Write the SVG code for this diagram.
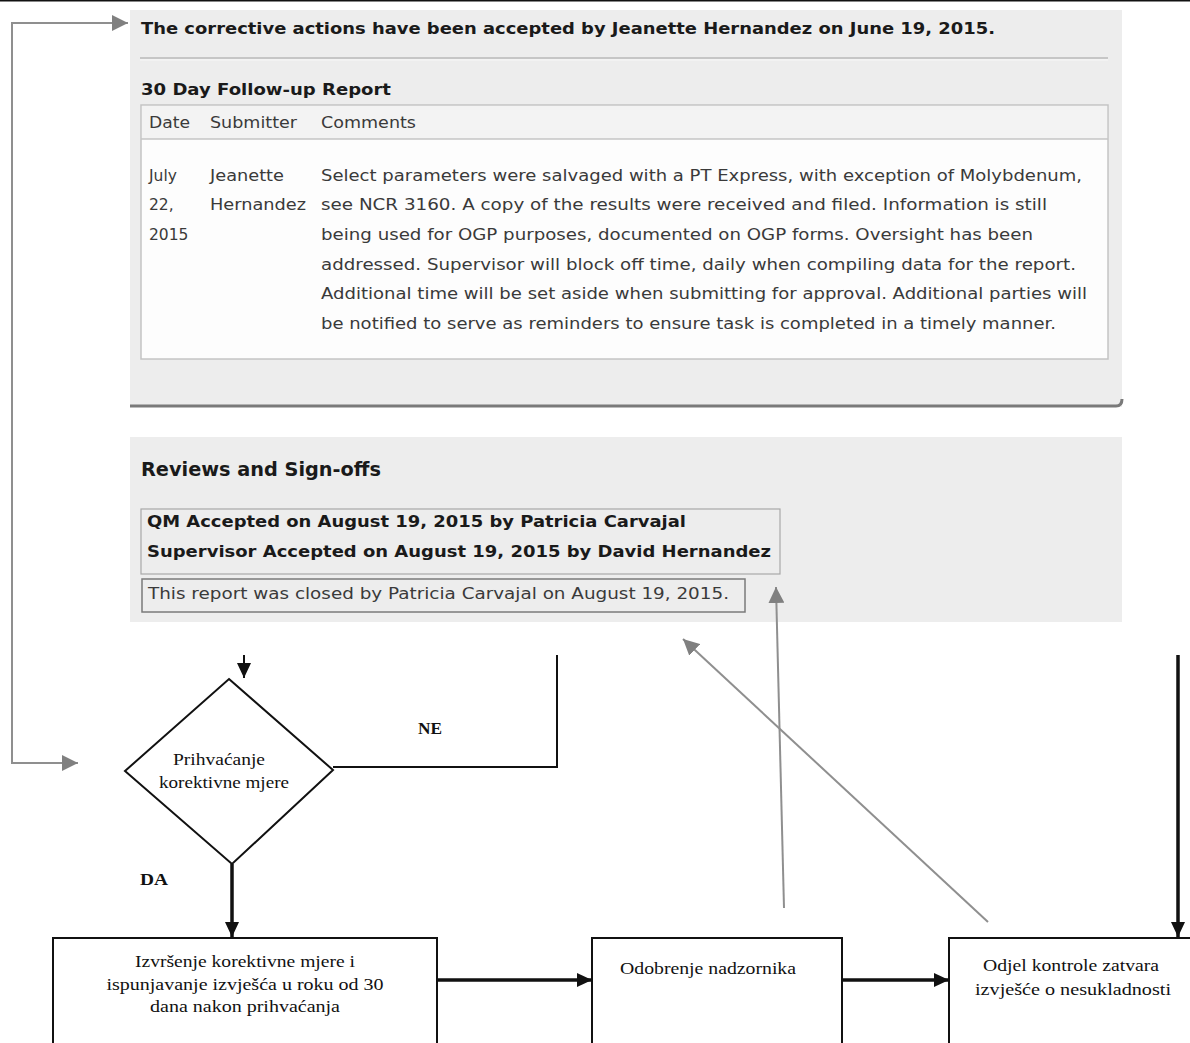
<svg xmlns="http://www.w3.org/2000/svg" width="1190" height="1043" viewBox="0 0 1190 1043">
<style>
.panel{fill:#ededed}
.hb{font-family:"DejaVu Sans",Verdana,sans-serif;font-weight:bold;fill:#1a1a1a}
.tx{font-family:"DejaVu Sans",Verdana,sans-serif;fill:#3a3a3a}
.fc{font-family:"Liberation Serif","Times New Roman",serif;fill:#111;font-size:16px}
.box{fill:#fff;stroke:#111;stroke-width:2}
.gl{stroke:#8f8f8f;stroke-width:2;fill:none}
.bl{stroke:#111;stroke-width:2;fill:none}
.bt{stroke:#111;stroke-width:3.5;fill:none}
</style>
<defs>
<marker id="ag" markerUnits="userSpaceOnUse" markerWidth="18" markerHeight="16" refX="16" refY="8" orient="auto-start-reverse" viewBox="0 0 18 16">
<path d="M0,0 L16,8 L0,16 Z" fill="#808080"/>
</marker>
<marker id="ab" markerUnits="userSpaceOnUse" markerWidth="16" markerHeight="14" refX="15" refY="7" orient="auto" viewBox="0 0 16 14">
<path d="M0,0 L15,7 L0,14 Z" fill="#111"/>
</marker>
</defs>
<rect width="1190" height="1043" fill="#fff"/>
<rect x="0" y="0" width="1190" height="1.5" fill="#111"/>

<g id="panel-followup">
<rect class="panel" x="130" y="10" width="992" height="397"/>
<path d="M130 406 H1116 Q1122 406 1122 399" stroke="#7a7a7a" stroke-width="3" fill="none"/>
<text class="hb" x="141" y="34" font-size="16" textLength="854" lengthAdjust="spacingAndGlyphs">The corrective actions have been accepted by Jeanette Hernandez on June 19, 2015.</text>
<line x1="140" y1="58" x2="1108" y2="58" stroke="#b8b8b8" stroke-width="1.5"/>
<line x1="140" y1="60" x2="1108" y2="60" stroke="#f8f8f8" stroke-width="1"/>
<text class="hb" x="141" y="95" font-size="16" textLength="250" lengthAdjust="spacingAndGlyphs">30 Day Follow-up Report</text>
<rect x="141" y="105" width="967" height="254" fill="#fdfdfd" stroke="#c4c4c4" stroke-width="1.5"/>
<rect x="142" y="106" width="965" height="33" fill="#f3f3f3"/>
<line x1="141" y1="139" x2="1108" y2="139" stroke="#c4c4c4" stroke-width="1.5"/>
<g class="tx" font-size="15.5">
<text x="149" y="128" textLength="41" lengthAdjust="spacingAndGlyphs">Date</text>
<text x="210" y="128" textLength="87" lengthAdjust="spacingAndGlyphs">Submitter</text>
<text x="321" y="128" textLength="95" lengthAdjust="spacingAndGlyphs">Comments</text>
<text x="149" y="181">July</text>
<text x="149" y="210">22,</text>
<text x="149" y="240">2015</text>
<text x="210" y="181" textLength="74" lengthAdjust="spacingAndGlyphs">Jeanette</text>
<text x="210" y="210" textLength="96" lengthAdjust="spacingAndGlyphs">Hernandez</text>
<text x="321" y="181" textLength="761" lengthAdjust="spacingAndGlyphs">Select parameters were salvaged with a PT Express, with exception of Molybdenum,</text>
<text x="321" y="210" textLength="726" lengthAdjust="spacingAndGlyphs">see NCR 3160. A copy of the results were received and filed. Information is still</text>
<text x="321" y="240" textLength="712" lengthAdjust="spacingAndGlyphs">being used for OGP purposes, documented on OGP forms. Oversight has been</text>
<text x="321" y="270" textLength="755" lengthAdjust="spacingAndGlyphs">addressed. Supervisor will block off time, daily when compiling data for the report.</text>
<text x="321" y="299" textLength="766" lengthAdjust="spacingAndGlyphs">Additional time will be set aside when submitting for approval. Additional parties will</text>
<text x="321" y="329" textLength="735" lengthAdjust="spacingAndGlyphs">be notified to serve as reminders to ensure task is completed in a timely manner.</text>
</g>
</g>

<g id="panel-reviews">
<rect class="panel" x="130" y="437" width="992" height="185"/>
<text class="hb" x="141" y="476" font-size="19" textLength="240" lengthAdjust="spacingAndGlyphs">Reviews and Sign-offs</text>
<rect x="141" y="509" width="639" height="65" fill="none" stroke="#a8a8a8" stroke-width="1.2"/>
<text class="hb" x="147" y="527" font-size="16" textLength="539" lengthAdjust="spacingAndGlyphs">QM Accepted on August 19, 2015 by Patricia Carvajal</text>
<text class="hb" x="147" y="557" font-size="16" textLength="624" lengthAdjust="spacingAndGlyphs">Supervisor Accepted on August 19, 2015 by David Hernandez</text>
<rect x="142" y="579" width="603" height="33" fill="none" stroke="#7a7a7a" stroke-width="1.5"/>
<text class="tx" x="148" y="599" font-size="15.5" textLength="581" lengthAdjust="spacingAndGlyphs">This report was closed by Patricia Carvajal on August 19, 2015.</text>
</g>

<g id="decision">
<polygon class="box" points="229,679 333,770 232,864 125,771"/>
<text class="fc" x="219" y="765" text-anchor="middle" textLength="92" lengthAdjust="spacingAndGlyphs">Prihvaćanje</text>
<text class="fc" x="224" y="788" text-anchor="middle" textLength="130" lengthAdjust="spacingAndGlyphs">korektivne mjere</text>
</g>

<g id="execution">
<rect class="box" x="53" y="938" width="384" height="110"/>
<text class="fc" x="245" y="967" text-anchor="middle" textLength="220" lengthAdjust="spacingAndGlyphs">Izvršenje korektivne mjere i</text>
<text class="fc" x="245" y="990" text-anchor="middle" textLength="277" lengthAdjust="spacingAndGlyphs">ispunjavanje izvješća u roku od 30</text>
<text class="fc" x="245" y="1012" text-anchor="middle" textLength="190" lengthAdjust="spacingAndGlyphs">dana nakon prihvaćanja</text>
</g>

<g id="approval">
<rect class="box" x="592" y="938" width="250" height="110"/>
<text class="fc" x="708" y="974" text-anchor="middle" textLength="176" lengthAdjust="spacingAndGlyphs">Odobrenje nadzornika</text>
</g>

<g id="closure">
<rect class="box" x="949" y="938" width="250" height="110"/>
<text class="fc" x="1071" y="971" text-anchor="middle" textLength="176" lengthAdjust="spacingAndGlyphs">Odjel kontrole zatvara</text>
<text class="fc" x="1073" y="995" text-anchor="middle" textLength="196" lengthAdjust="spacingAndGlyphs">izvješće o nesukladnosti</text>
</g>

<g id="labels" class="fc" font-weight="bold">
<text x="418" y="734" textLength="24" lengthAdjust="spacingAndGlyphs">NE</text>
<text x="140" y="885" textLength="28" lengthAdjust="spacingAndGlyphs">DA</text>
</g>

<g id="connectors">
<path class="gl" d="M78 763 H12 V23 H128" marker-start="url(#ag)" marker-end="url(#ag)"/>
<path class="gl" d="M784 908 L776 587" marker-end="url(#ag)"/>
<path class="gl" d="M988 922 L683 639" marker-end="url(#ag)"/>
<path class="bl" d="M244 655 V678" marker-end="url(#ab)"/>
<path class="bl" d="M333 767 H557 V655"/>
<path class="bt" d="M232 864 V937" marker-end="url(#ab)"/>
<path class="bt" d="M437 980 H592" marker-end="url(#ab)"/>
<path class="bt" d="M842 980 H949" marker-end="url(#ab)"/>
<path class="bt" d="M1178 655 V937" marker-end="url(#ab)"/>
</g>
</svg>
